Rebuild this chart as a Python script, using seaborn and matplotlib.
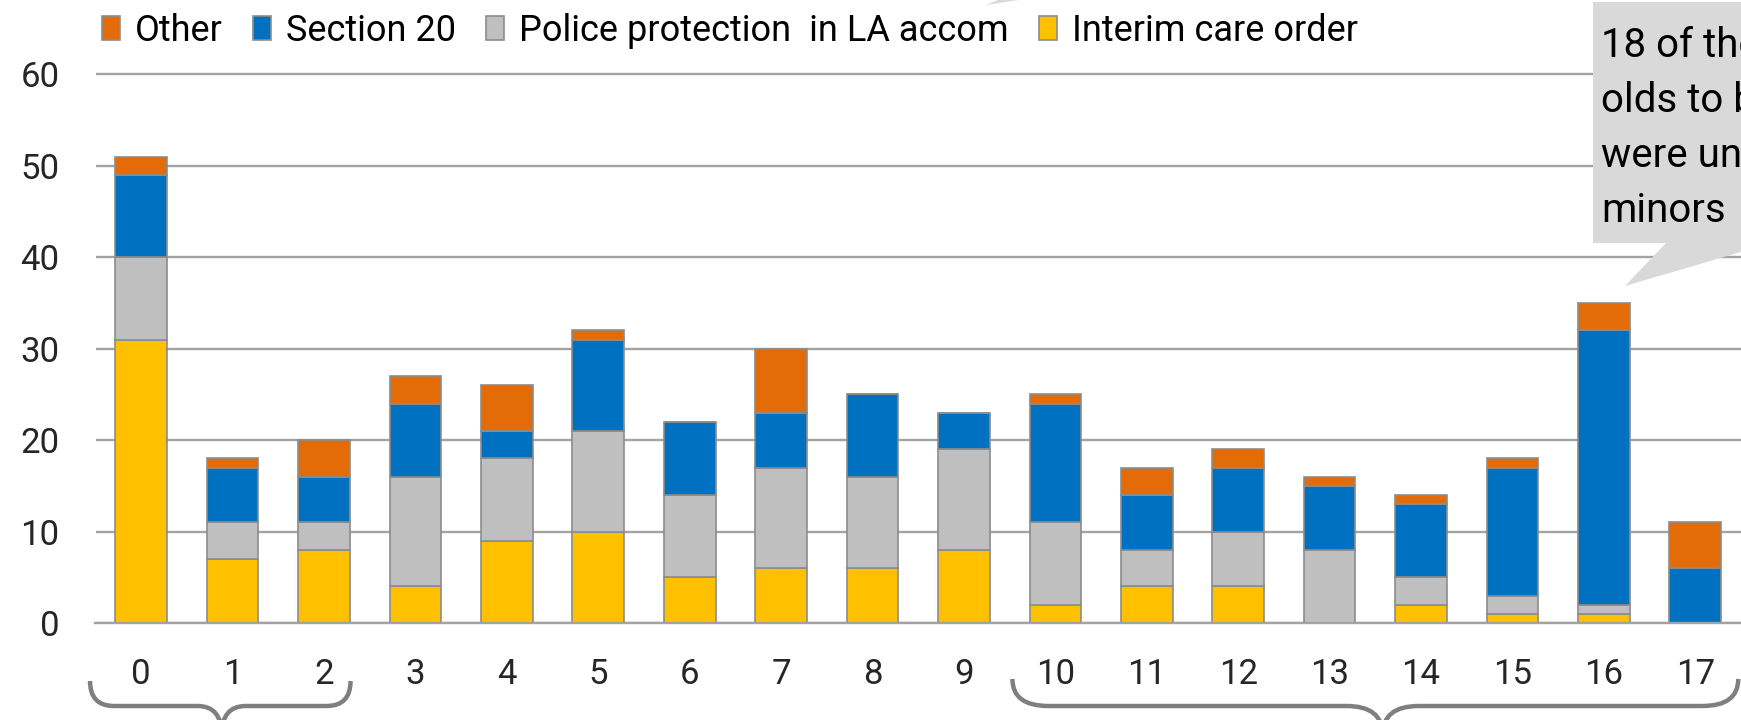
import numpy as np
import pandas as pd
import matplotlib
matplotlib.use("Agg")
import matplotlib.pyplot as plt
from matplotlib.patches import Patch, Polygon, PathPatch
from matplotlib.path import Path
from matplotlib.transforms import IdentityTransform
import seaborn as sns

# Children starting to be looked after, by age and legal status
ages = list(range(18))
interim_care_order = [31, 7, 8, 4, 9, 10, 5, 6, 6, 8, 2, 4, 4, 0, 2, 1, 1, 0]
police_protection = [9, 4, 3, 12, 9, 11, 9, 11, 10, 11, 9, 4, 6, 8, 3, 2, 1, 0]
section_20 = [9, 6, 5, 8, 3, 10, 8, 6, 9, 4, 13, 6, 7, 7, 8, 14, 30, 6]
other = [2, 1, 4, 3, 5, 1, 0, 7, 0, 0, 1, 3, 2, 1, 1, 1, 3, 5]

series_names = ["Other", "Section 20", "Police protection  in LA accom", "Interim care order"]
series_values = [other, section_20, police_protection, interim_care_order]
series_colors = ["#e36c09", "#0070c0", "#bfbfbf", "#ffc000"]
y_ticks = [0, 10, 20, 30, 40, 50, 60]

callout_lines = ["18 of the 16 year", "olds to be looked after", "were unaccompanied", "minors"]

rows = []
for name, vals in zip(series_names, series_values):
    for age, v in zip(ages, vals):
        rows.append({"age": age, "status": name, "count": v})
df = pd.DataFrame(rows)

sns.set_style("white")
plt.rcParams["font.family"] = ["Roboto", "DejaVu Sans"]
plt.rcParams["text.color"] = "black"

W, H = 1741, 720
fig = plt.figure(figsize=(W / 100, H / 100), dpi=100)
fig.patch.set_facecolor("white")

ax_left_px, ax_bottom_px = 95.5, 97
ylim_top = 60.25
px_per_unit = 9.143
ax_height_px = ylim_top * px_per_unit
ax = fig.add_axes([ax_left_px / W, ax_bottom_px / H, 1 - ax_left_px / W, ax_height_px / H])

grid_gray = "#a3a3a3"
edge_gray = "#8c8c8c"

sns.histplot(
    data=df, x="age", weights="count", hue="status", hue_order=series_names,
    multiple="stack", discrete=True, shrink=0.565,
    palette=dict(zip(series_names, series_colors)),
    edgecolor=edge_gray, linewidth=1.2, alpha=1, legend=False, ax=ax,
)

ax.set_xlim(-0.5, -0.5 + (W - ax_left_px) / 92.05)
ax.set_ylim(0, ylim_top)
ax.set_xlabel("")
ax.set_ylabel("")

ax.set_yticks(y_ticks)
ax.set_yticklabels([str(t) for t in y_ticks])
ax.yaxis.grid(True, color=grid_gray, linewidth=1.7)
ax.xaxis.grid(False)
ax.set_axisbelow(True)

ax.set_xticks(ages)
ax.set_xticklabels([str(a) for a in ages])
ax.set_xticks(np.arange(-0.5, 18, 1), minor=True)
ax.tick_params(axis="x", which="major", length=0, pad=25, labelsize=25)
ax.tick_params(axis="x", which="minor", length=8.5, width=1.3, color=grid_gray)
ax.tick_params(axis="y", length=0, pad=26, labelsize=25)

for side in ["left", "top", "right"]:
    ax.spines[side].set_visible(False)
ax.spines["bottom"].set_color(grid_gray)
ax.spines["bottom"].set_linewidth(1.7)

# Legend across the top
handles = [Patch(facecolor=c, edgecolor=edge_gray, linewidth=1.2) for c in series_colors]
fig.legend(
    handles, series_names, loc="center left",
    bbox_to_anchor=(102 / W, 1 - 31 / H), ncol=4, frameon=False,
    fontsize=26, handlelength=0.5, handleheight=0.65, handletextpad=0.4,
    columnspacing=0.85, borderpad=0, borderaxespad=0,
)

ident = IdentityTransform()
callout_gray = "#d9d9d9"

# Speech bubble on the right, pointing down at the 16 year olds
fig.add_artist(Polygon([(1593, 477), (1593, 718), (1800, 718), (1800, 477)], closed=True,
                       facecolor=callout_gray, edgecolor="none", transform=ident, zorder=5))
fig.add_artist(Polygon([(1667, 478), (1625, 434), (1775, 478)], closed=True,
                       facecolor=callout_gray, edgecolor="none", transform=ident, zorder=5))
for i, line in enumerate(callout_lines):
    fig.text(1601 / W, (H - 57 - i * 55) / H, line, ha="left", va="baseline",
             fontsize=29, zorder=6)

# Tip of a second bubble entering from above
fig.add_artist(Polygon([(986, 715), (1000, 721), (1025, 721)], closed=True,
                       facecolor=callout_gray, edgecolor="none", transform=ident, zorder=5))


def brace(x_left, x_mid, x_right, y_top, y_mid, y_tip, r):
    verts = [
        (x_left, y_top), (x_left, y_mid), (x_left + r, y_mid),
        (x_mid - r, y_mid),
        (x_mid, y_mid), (x_mid, y_tip),
        (x_mid, y_mid), (x_mid + r, y_mid),
        (x_right - r, y_mid),
        (x_right, y_mid), (x_right, y_top),
    ]
    codes = [
        Path.MOVETO, Path.CURVE3, Path.CURVE3,
        Path.LINETO,
        Path.CURVE3, Path.CURVE3,
        Path.CURVE3, Path.CURVE3,
        Path.LINETO,
        Path.CURVE3, Path.CURVE3,
    ]
    fig.add_artist(PathPatch(Path(verts, codes), facecolor="none", edgecolor="#7f7f7f",
                             linewidth=3.2, capstyle="butt", transform=ident, zorder=4))


def xpix(x):
    return ax.transData.transform((x, 0))[0]


# Braces grouping the age ranges under the axis
brace(xpix(-0.56), xpix(0.88), xpix(2.29), H - 681, H - 706, H - 735, 24)
brace(xpix(9.53), xpix(13.58), xpix(17.47), H - 679, H - 706, H - 735, 36)

fig.savefig("out.png", dpi=100)
